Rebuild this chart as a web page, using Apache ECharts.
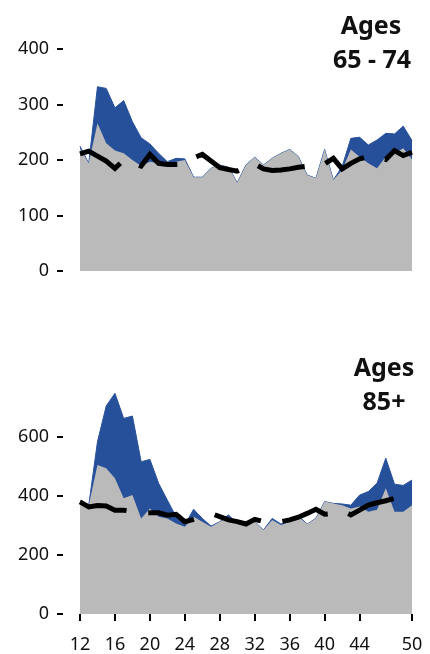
<!DOCTYPE html>
<html>
<head>
<meta charset="utf-8">
<script src="https://cdn.jsdelivr.net/npm/echarts@6/dist/echarts.min.js"></script>
<style>html,body{margin:0;padding:0;background:#fff;}#chart{width:430px;height:654px;}</style>
</head>
<body>
<div id="chart"></div>
<script>
const weeks = [12,13,14,15,16,17,18,19,20,21,22,23,24,25,26,27,28,29,30,31,32,33,34,35,36,37,38,39,40,41,42,43,44,45,46,47,48,49,50];
const xTickLabels = [12,16,20,24,28,32,36,40,44,50];
const yTicks65 = [0,100,200,300,400];
const yTicks85 = [0,200,400,600];
const titles65 = ['Ages', '65 - 74'];
const titles85 = ['Ages', '85+'];

// Ages 65-74
const grey65 = [221,194,266,230,217,212,200,189,197,194,191,197,200,169,169,185,191,187,159,191,205,191,203,212,219,206,173,167,219,164,182,219,206,194,185,206,212,221,201];
const blue65 = [225,194,332,329,294,307,269,240,229,212,197,203,202,169,169,185,191,187,159,191,205,191,203,212,219,206,173,167,219,164,188,239,241,227,236,248,247,261,235];
const black65 = [211,216,207,198,185,200,195,189,210,194,192,192,193,204,210,198,186,183,180,188,193,184,181,182,184,187,189,190,193,203,184,194,202,206,204,201,217,208,214];

// Ages 85+
const grey85 = [386,369,505,494,460,392,403,324,358,330,324,307,296,330,313,296,313,330,305,298,313,285,319,302,313,330,305,324,381,375,369,358,364,347,353,426,347,347,369];
const blue85 = [386,369,584,705,748,663,671,516,524,443,386,330,302,355,324,298,313,336,307,302,313,285,324,305,313,333,305,324,381,375,373,369,403,415,443,528,440,436,454];
const black85 = [380,363,368,366,352,352,347,341,343,343,335,338,313,321,330,341,330,319,313,305,321,313,319,313,319,328,341,355,338,341,352,336,352,369,377,384,392,403,420];

const FONT = 'Noto Sans';
const BLUE = '#27509b';
const GREY = '#bababa';

function pairs(arr){ return weeks.map((w,i)=>[w, arr[i]]); }

function seriesFor(idx, blue, grey, black, dash){
  return [
    {type:'line', xAxisIndex:idx, yAxisIndex:idx, data:pairs(blue), symbol:'none',
     lineStyle:{color:BLUE, width:1}, areaStyle:{color:BLUE, opacity:1}, z:1, silent:true},
    {type:'line', xAxisIndex:idx, yAxisIndex:idx, data:pairs(grey), symbol:'none',
     lineStyle:{width:0, color:GREY}, areaStyle:{color:GREY, opacity:1}, z:2, silent:true},
    {type:'line', xAxisIndex:idx, yAxisIndex:idx, data:pairs(black), symbol:'none',
     lineStyle:{color:'#000', width:5, type:dash, cap:'butt', join:'miter'}, z:3, silent:true}
  ];
}

const chart = echarts.init(document.getElementById('chart'), null, {renderer:'canvas'});
const labelStyle = {color:'#111', fontSize:18, fontFamily:FONT};
const titleFont = 'bold 25px "' + FONT + '"';
function titleText(txt, x, y){
  return {type:'text', x:x, y:y, z:10, style:{text:txt, fill:'#111', font:titleFont, textAlign:'center', textVerticalAlign:'middle'}};
}
chart.setOption({
  animation:false,
  grid:[
    {left:80, right:18, top:49, height:222},
    {left:80, right:18, top:378, height:236}
  ],
  xAxis:[
    {gridIndex:0, type:'value', min:12, max:50, show:false},
    {gridIndex:1, type:'value', min:12, max:50, offset:9,
     axisLine:{show:false}, splitLine:{show:false},
     axisTick:{show:true, length:7, lineStyle:{color:'#000', width:2}, customValues:xTickLabels},
     axisLabel:Object.assign({margin:13, customValues:xTickLabels}, labelStyle)}
  ],
  yAxis:[
    {gridIndex:0, type:'value', min:0, max:400, interval:100, offset:17,
     axisLine:{show:false}, splitLine:{show:false},
     axisTick:{show:true, length:6, lineStyle:{color:'#000', width:2}, customValues:yTicks65},
     axisLabel:Object.assign({margin:14, customValues:yTicks65}, labelStyle)},
    {gridIndex:1, type:'value', min:0, max:800, interval:200, offset:17,
     axisLine:{show:false}, splitLine:{show:false},
     axisTick:{show:true, length:6, lineStyle:{color:'#000', width:2}, customValues:yTicks85},
     axisLabel:Object.assign({margin:14, customValues:yTicks85}, labelStyle)}
  ],
  graphic:[
    titleText(titles65[0], 371, 27),
    titleText(titles65[1], 372, 61),
    titleText(titles85[0], 384, 369),
    titleText(titles85[1], 384, 403)
  ],
  series:[].concat(seriesFor(0, blue65, grey65, black65, [48,21]), seriesFor(1, blue85, grey85, black85, [49,22]))
});
</script>
</body>
</html>
